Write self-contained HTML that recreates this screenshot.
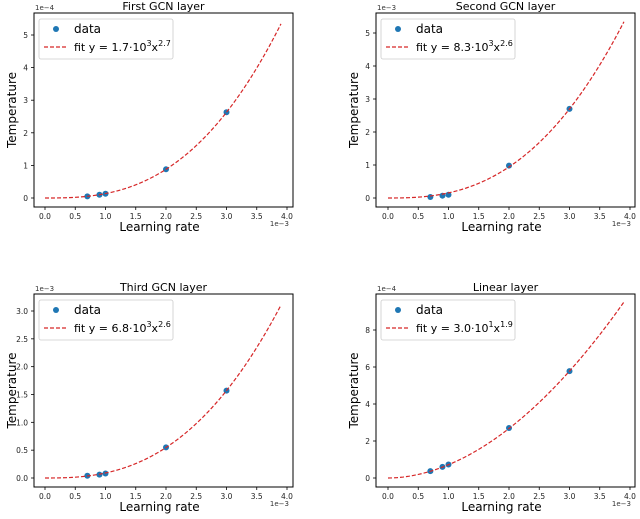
<!DOCTYPE html>
<html><head><meta charset="utf-8"><style>
body{margin:0;background:#fff;}
svg text{font-family:"DejaVu Sans","Liberation Sans",sans-serif;}
</style></head><body>
<svg id="c" width="640" height="514" viewBox="0 0 640 514" xmlns="http://www.w3.org/2000/svg"></svg>
<script>
const titles = ["First GCN layer","Second GCN layer","Third GCN layer","Linear layer"];
const yOffsets = ["1e\u22124","1e\u22123","1e\u22123","1e\u22124"];
const xValues = [0.7,0.9,1.0,2.0,3.0];
const yValues1 = [0.05,0.1,0.13,0.88,2.63];
const yValues2 = [0.03,0.07,0.1,0.98,2.7];
const yValues3 = [0.04,0.06,0.08,0.55,1.57];
const yValues4 = [0.37,0.6,0.73,2.7,5.78];
const fitAt3 = [2.63,2.7,1.57,5.78];
const fitExp = [2.7,2.6,2.6,1.9];
const fitCoef = ["1.7","8.3","6.8","3.0"];
const fitPow = ["3","3","3","1"];
const xTicks = [0.0,0.5,1.0,1.5,2.0,2.5,3.0,3.5,4.0];
const xTickLabels = ["0.0","0.5","1.0","1.5","2.0","2.5","3.0","3.5","4.0"];
const yTicks1 = [0,1,2,3,4,5];
const yTicks2 = [0,1,2,3,4,5];
const yTicks3 = [0,0.5,1.0,1.5,2.0,2.5,3.0];
const yTicks4 = [0,2,4,6,8];
const yTickLabels3 = ["0.0","0.5","1.0","1.5","2.0","2.5","3.0"];

const svg=document.getElementById('c');
const NS="http://www.w3.org/2000/svg";
function mk(tag,attrs,parent,txt){const e=document.createElementNS(NS,tag);for(const k in attrs)e.setAttribute(k,attrs[k]);if(txt!==undefined)e.textContent=txt;(parent||svg).appendChild(e);return e;}

const panels=[
 {box:[34,13,293,207],x0:45,x4:287,y0:198,yRef:35,yRefV:5,ys:yValues1,yt:yTicks1,ytl:null},
 {box:[376,13,635,207],x0:388,x4:630,y0:198,yRef:33,yRefV:5,ys:yValues2,yt:yTicks2,ytl:null},
 {box:[34,294,293,487],x0:45,x4:287,y0:478,yRef:311,yRefV:3,ys:yValues3,yt:yTicks3,ytl:yTickLabels3},
 {box:[376,294,635,487],x0:388,x4:630,y0:478,yRef:330,yRefV:8,ys:yValues4,yt:yTicks4,ytl:null}
];
panels.forEach((p,i)=>{
  const g=mk('g',{});
  
  
  const [l,t,r,b]=p.box;
  const X=v=>p.x0+(p.x4-p.x0)*v/4;
  const Y=v=>p.y0-(p.y0-p.yRef)*v/p.yRefV;
  const title=mk('text',{x:(l+r)/2,y:t-3,'text-anchor':'middle','font-size':11},g,titles[i]);
  
  
  const off=mk('text',{x:l+1,y:t-3,'font-size':7,fill:'#333'},g,yOffsets[i]);
  
  
  const xoff=mk('text',{x:r-4,y:b+19,'text-anchor':'end','font-size':7,fill:'#333'},g,'1e\u22123');
  
  
  xTicks.forEach((v,k)=>{
    mk('line',{x1:X(v),x2:X(v),y1:b,y2:b+3,stroke:'#000','stroke-width':0.8},g);
    const tx=mk('text',{x:X(v),y:b+12,'text-anchor':'middle','font-size':7.5,fill:'#222'},g,xTickLabels[k]);
    
    
  });
  p.yt.forEach((v,k)=>{
    mk('line',{x1:l-3,x2:l,y1:Y(v),y2:Y(v),stroke:'#000','stroke-width':0.8},g);
    const ty=mk('text',{x:l-6,y:Y(v)+3,'text-anchor':'end','font-size':7.5,fill:'#222'},g,p.ytl?p.ytl[k]:String(v));
    
    
  });
  const xl=mk('text',{x:(l+r)/2-4,y:b+24,'text-anchor':'middle','font-size':12},g,'Learning rate');
  
  
  const cy=(t+b)/2;
  const yl=mk('text',{x:l-18,y:cy,'text-anchor':'middle','font-size':12,transform:`rotate(-90 ${l-18} ${cy})`},g,'Temperature');
  
  
  // fit curve
  let d='';
  for(let k=0;k<=78;k++){const xv=k*0.05;const yv=fitAt3[i]*Math.pow(xv/3,fitExp[i]);d+=(k?'L':'M')+X(xv).toFixed(2)+','+Y(yv).toFixed(2);}
  // points
  p.ys.forEach((v,k)=>{
    const c=mk('circle',{cx:X(xValues[k]),cy:Y(v),r:3,fill:'#1f77b4'},g);
    
    
  });
  const fc=mk('path',{d:d,fill:'none',stroke:'#d62728','stroke-width':1.2,'stroke-dasharray':'4,2'},g);
  
  
  mk('rect',{x:l,y:t,width:r-l,height:b-t,fill:'none',stroke:'#000','stroke-width':1},g);
  // legend
  const lg=mk('g',{},g);
  
  
  mk('rect',{x:l+5,y:t+6,width:134,height:40,rx:2,fill:'#fff',stroke:'#ccc','stroke-width':0.8},lg);
  mk('circle',{cx:l+22,cy:t+16,r:3,fill:'#1f77b4'},lg);
  mk('text',{x:l+40,y:t+20,'font-size':12},lg,'data');
  mk('line',{x1:l+10,x2:l+34,y1:t+34,y2:t+34,stroke:'#d62728','stroke-width':1.3,'stroke-dasharray':'4,2'},lg);
  const ft=mk('text',{x:l+40,y:t+38,'font-size':11},lg);
  mk('tspan',{},ft,'fit y = '+fitCoef[i]+'\u00b710');
  mk('tspan',{dy:-5,'font-size':8},ft,fitPow[i]);
  mk('tspan',{dy:5},ft,'x');
  mk('tspan',{dy:-5,'font-size':8},ft,String(fitExp[i]));
});
</script>
</body></html>
